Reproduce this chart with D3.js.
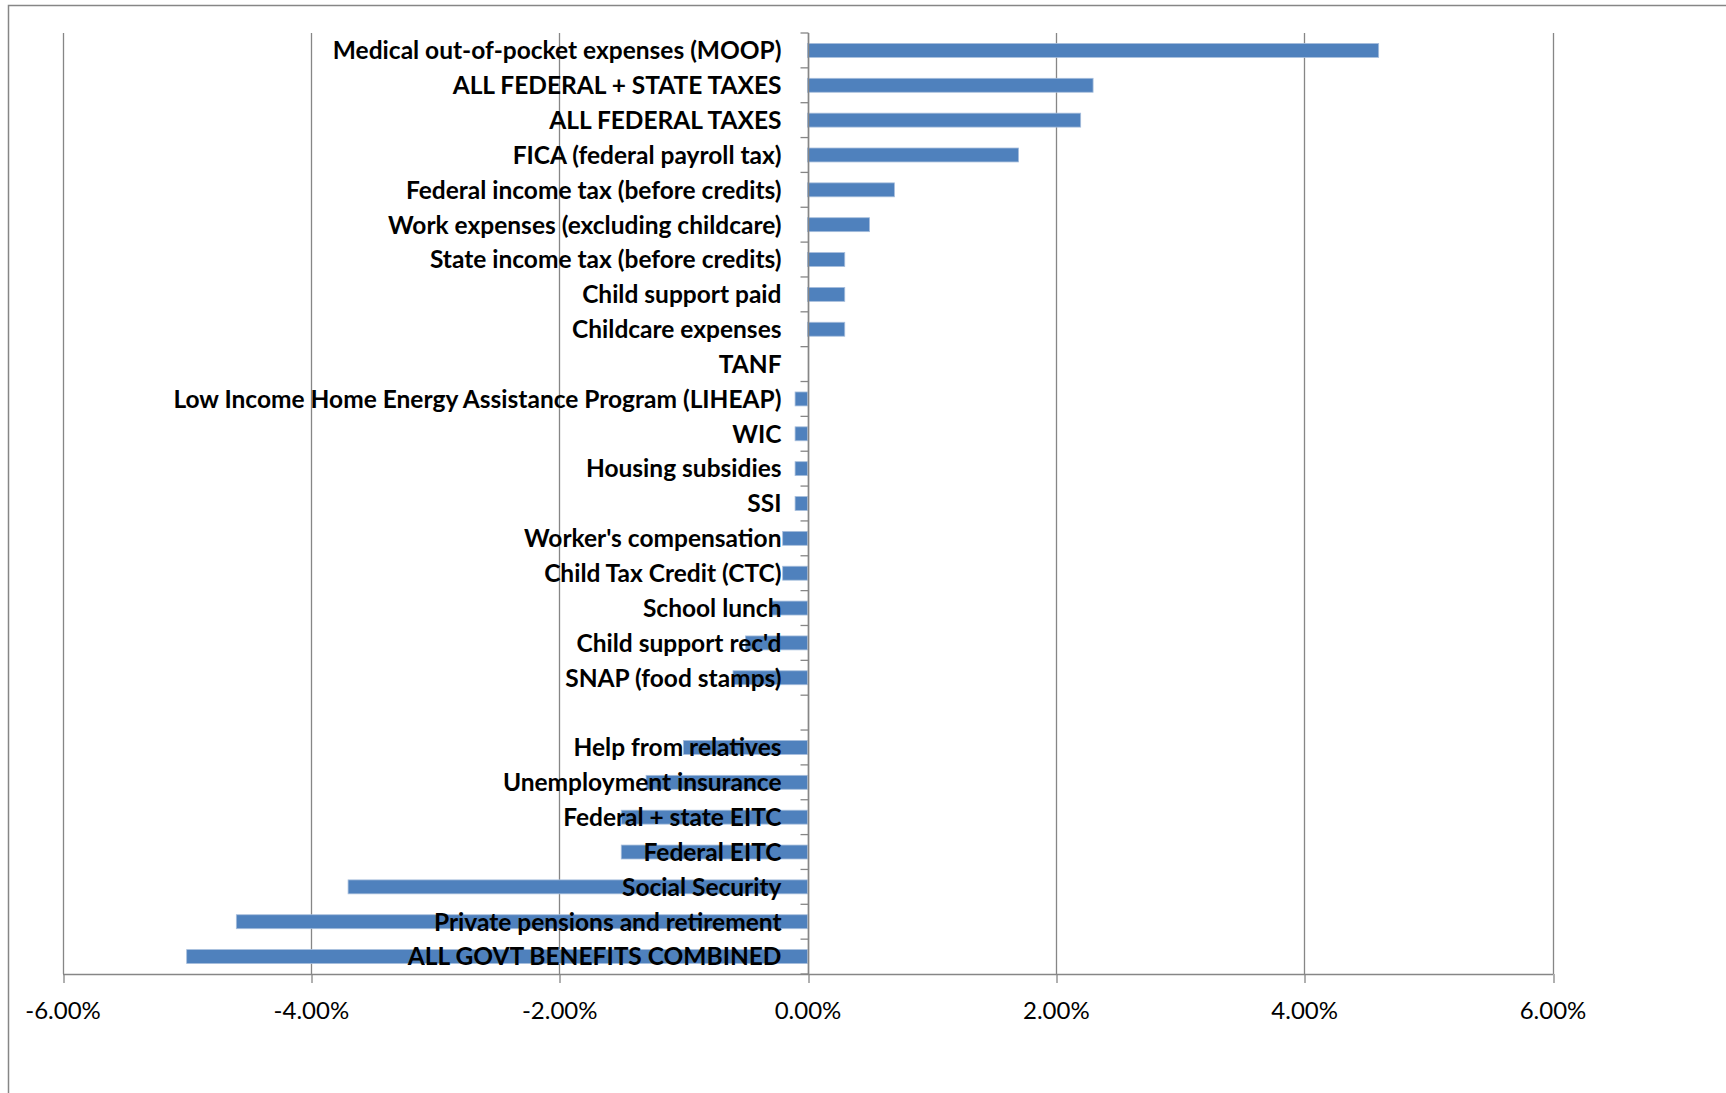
<!DOCTYPE html>
<html>
<head>
<meta charset="utf-8">
<script src="https://cdn.jsdelivr.net/npm/d3@7"></script>
<style>
  html, body { margin: 0; padding: 0; background: #ffffff; }
  svg { display: block; }
</style>
</head>
<body>
<svg id="chart" width="1726" height="1093"></svg>
<script>
// Change in share of income, by resource / expense item (top to bottom)
const categories = [
  "Medical out-of-pocket expenses (MOOP)",
  "ALL FEDERAL + STATE TAXES",
  "ALL FEDERAL TAXES",
  "FICA (federal payroll tax)",
  "Federal income tax (before credits)",
  "Work expenses (excluding childcare)",
  "State income tax (before credits)",
  "Child support paid",
  "Childcare expenses",
  "TANF",
  "Low Income Home Energy Assistance Program (LIHEAP)",
  "WIC",
  "Housing subsidies",
  "SSI",
  "Worker's compensation",
  "Child Tax Credit (CTC)",
  "School lunch",
  "Child support rec'd",
  "SNAP (food stamps)",
  "",
  "Help from relatives",
  "Unemployment insurance",
  "Federal + state EITC",
  "Federal EITC",
  "Social Security",
  "Private pensions and retirement",
  "ALL GOVT BENEFITS COMBINED"
];

// Values in percent
const values = [
  4.6, 2.3, 2.2, 1.7, 0.7, 0.5, 0.3, 0.3, 0.3, 0.0,
  -0.1, -0.1, -0.1, -0.1, -0.2, -0.2, -0.3, -0.5, -0.6, null,
  -1.0, -1.3, -1.5, -1.5, -3.7, -4.6, -5.0
];

const tickValues = [-6, -4, -2, 0, 2, 4, 6];
const tickLabels = ["-6.00%", "-4.00%", "-2.00%", "0.00%", "2.00%", "4.00%", "6.00%"];

const svg = d3.select("#chart");
const W = 1726, H = 1093;
const plot = { left: 62.5, right: 1552.5, top: 33, bottom: 974 };
const gray = "#868686";
const barColor = "#4F81BD";

// Outer chart-area frame (top and left edges visible)
svg.append("path")
  .attr("d", `M8.5,${H} L8.5,5.5 L${W},5.5`)
  .attr("fill", "none")
  .attr("stroke", gray)
  .attr("stroke-width", 1.5);

const x = d3.scaleLinear().domain([-6, 6]).range([plot.left, plot.right]);
const idx = d3.range(categories.length);
const y = d3.scaleBand().domain(idx).range([plot.top, plot.bottom]).paddingInner(0.6).paddingOuter(0.3);
const yBand = d3.scaleBand().domain(idx).range([plot.top, plot.bottom]);

// Vertical gridlines
svg.append("g")
  .selectAll("line")
  .data(tickValues)
  .join("line")
  .attr("x1", d => Math.round(x(d)) + 0.5)
  .attr("x2", d => Math.round(x(d)) + 0.5)
  .attr("y1", plot.top)
  .attr("y2", plot.bottom)
  .attr("stroke", gray)
  .attr("stroke-width", 1.3);

// Bars
svg.append("g")
  .selectAll("rect")
  .data(idx.filter(i => values[i] !== null && values[i] !== 0))
  .join("rect")
  .attr("x", i => x(Math.min(0, values[i])))
  .attr("width", i => Math.abs(x(values[i]) - x(0)))
  .attr("y", i => y(i))
  .attr("height", y.bandwidth())
  .attr("fill", barColor)
  .attr("stroke", "#a7bedc")
  .attr("stroke-width", 0.8);

// Bottom value axis
const xAxis = d3.axisBottom(x)
  .tickValues(tickValues)
  .tickFormat((d, i) => tickLabels[i])
  .tickSizeInner(9)
  .tickSizeOuter(0)
  .tickPadding(19);
const gx = svg.append("g")
  .attr("transform", `translate(0,${plot.bottom})`)
  .call(xAxis);
gx.select(".domain").attr("stroke", gray).attr("stroke-width", 1.5);
gx.selectAll(".tick line").attr("stroke", gray).attr("stroke-width", 1.3)
  .attr("transform", d => `translate(${Math.round(x(d)) + 0.5 - x(d)},0)`);
gx.selectAll(".tick text")
  .attr("fill", "#000")
  .attr("font-family", "Lato, 'Open Sans', sans-serif")
  .attr("font-size", 24)
  .attr("dy", "0.72em");

// Category axis at zero, with ticks on band boundaries
const x0 = Math.round(x(0)) + 0.5;
svg.append("line")
  .attr("x1", x0).attr("x2", x0)
  .attr("y1", plot.top).attr("y2", plot.bottom)
  .attr("stroke", gray).attr("stroke-width", 1.5);

const boundaries = idx.map(i => yBand(i)).concat([plot.bottom]);
svg.append("g")
  .selectAll("line")
  .data(boundaries)
  .join("line")
  .attr("x1", x0 - 8).attr("x2", x0)
  .attr("y1", d => d).attr("y2", d => d)
  .attr("stroke", gray).attr("stroke-width", 1.3);

// Category labels, right-aligned just left of the zero axis
svg.append("g")
  .selectAll("text")
  .data(idx)
  .join("text")
  .attr("x", x0 - 27)
  .attr("y", i => yBand(i) + yBand.bandwidth() / 2)
  .attr("dy", "0.36em")
  .attr("text-anchor", "end")
  .attr("font-family", "Lato, 'Open Sans', sans-serif")
  .attr("font-weight", "bold")
  .attr("font-size", 24.5)
  .attr("fill", "#000")
  .text(i => categories[i]);
</script>
</body>
</html>
